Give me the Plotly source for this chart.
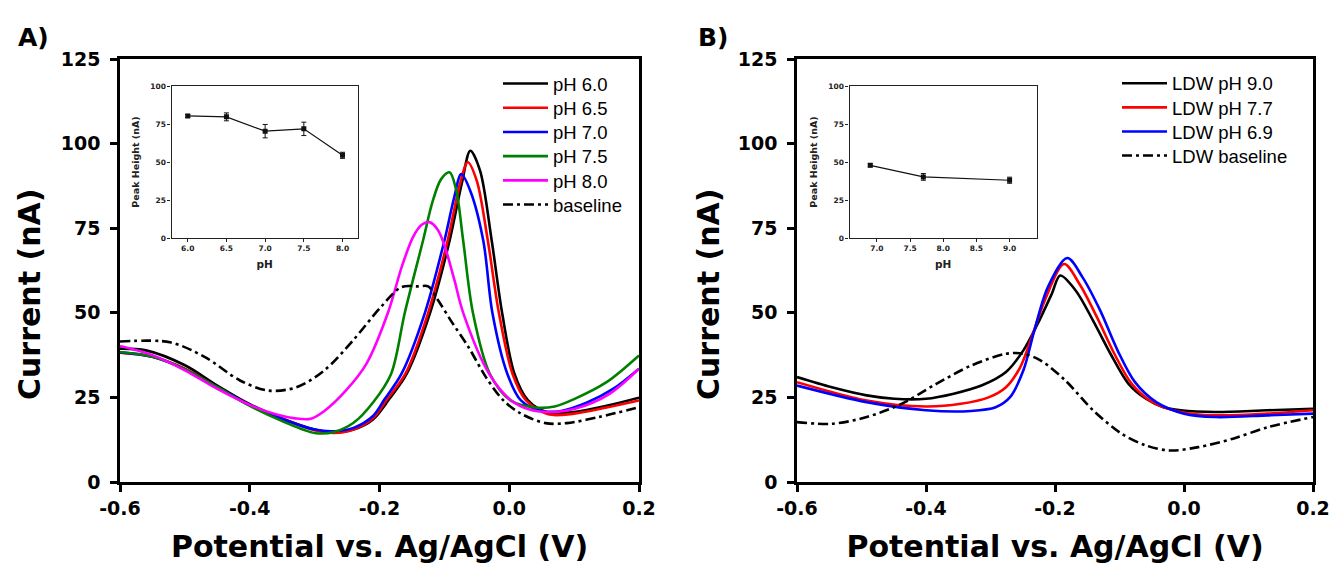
import plotly.graph_objects as go

W, H = 1337, 571

# ---------------- Panel A data ----------------
ph60_v = [-0.6, -0.56, -0.5, -0.45, -0.4, -0.35, -0.3, -0.27, -0.24, -0.21, -0.185, -0.158, -0.122, -0.092, -0.073, -0.06, -0.045, -0.027, -0.011, 0.008, 0.029, 0.06, 0.1, 0.15, 0.2]
ph60_i = [39.4, 38.9, 34.5, 28.5, 23.0, 18.8, 15.5, 14.6, 15.5, 18.5, 24.5, 32.0, 50.0, 71.3, 88.4, 97.9, 92.0, 71.3, 50.0, 32.0, 24.1, 20.5, 20.7, 22.5, 24.9]

ph65_v = [-0.6, -0.55, -0.5, -0.45, -0.4, -0.35, -0.3, -0.27, -0.24, -0.21, -0.188, -0.16, -0.125, -0.095, -0.076, -0.064, -0.05, -0.033, -0.016, 0.005, 0.026, 0.06, 0.1, 0.15, 0.2]
ph65_i = [38.2, 37.0, 33.5, 28.0, 22.7, 18.6, 15.3, 14.5, 15.5, 18.8, 24.5, 32.0, 50.0, 71.3, 88.0, 94.5, 89.0, 71.3, 50.0, 32.0, 24.1, 20.0, 20.2, 22.0, 24.1]

ph70_v = [-0.6, -0.55, -0.5, -0.45, -0.4, -0.35, -0.3, -0.27, -0.24, -0.21, -0.192, -0.166, -0.13, -0.1, -0.085, -0.074, -0.06, -0.04, -0.026, -0.003, 0.018, 0.05, 0.08, 0.12, 0.16, 0.2]
ph70_i = [38.3, 37.0, 33.3, 28.0, 22.7, 18.6, 15.5, 15.0, 16.0, 19.5, 24.5, 32.0, 50.0, 71.3, 84.0, 91.0, 86.0, 71.3, 50.0, 32.0, 24.1, 21.0, 21.0, 23.5, 27.5, 33.5]

ph75_v = [-0.6, -0.55, -0.5, -0.45, -0.4, -0.35, -0.3, -0.27, -0.24, -0.21, -0.182, -0.161, -0.133, -0.118, -0.105, -0.092, -0.082, -0.071, -0.056, -0.03, 0.002, 0.04, 0.07, 0.1, 0.15, 0.2]
ph75_i = [38.4, 37.0, 33.3, 28.0, 22.5, 18.0, 14.5, 14.8, 17.5, 23.5, 32.0, 50.0, 71.3, 83.0, 89.5, 91.5, 86.5, 71.3, 50.0, 32.0, 24.1, 22.0, 22.3, 24.5, 29.5, 37.4]

ph80_v = [-0.6, -0.55, -0.5, -0.45, -0.4, -0.36, -0.33, -0.306, -0.285, -0.252, -0.22, -0.187, -0.165, -0.148, -0.135, -0.123, -0.11, -0.1, -0.085, -0.071, -0.031, 0.003, 0.03, 0.06, 0.1, 0.154, 0.2]
ph80_i = [40.2, 37.5, 33.0, 27.5, 22.8, 20.0, 18.8, 18.7, 21.0, 27.0, 35.0, 50.0, 64.0, 72.5, 76.0, 76.8, 74.5, 70.0, 60.0, 50.0, 32.0, 24.1, 21.5, 20.7, 21.6, 26.0, 33.5]

baseA_v = [-0.6, -0.523, -0.469, -0.415, -0.371, -0.328, -0.285, -0.241, -0.198, -0.166, -0.14, -0.125, -0.111, -0.09, -0.063, -0.036, -0.009, 0.018, 0.056, 0.089, 0.138, 0.2]
baseA_i = [41.5, 41.3, 36.9, 30.0, 27.0, 28.0, 33.0, 41.8, 51.7, 57.6, 57.8, 57.8, 54.1, 47.7, 39.9, 31.0, 24.1, 20.2, 17.4, 17.4, 19.2, 22.1]

# ---------------- Panel B data ----------------
ldw90_v = [-0.6, -0.546, -0.492, -0.449, -0.4, -0.357, -0.314, -0.276, -0.249, -0.227, -0.205, -0.192, -0.168, -0.141, -0.114, -0.086, -0.059, -0.032, -0.005, 0.049, 0.13, 0.2]
ldw90_i = [31.0, 28.0, 25.6, 24.6, 24.6, 26.1, 28.5, 32.5, 38.9, 46.7, 55.6, 61.0, 56.6, 47.7, 37.9, 29.0, 24.6, 22.1, 21.2, 20.7, 21.2, 21.6]

ldw77_v = [-0.6, -0.492, -0.4, -0.346, -0.303, -0.276, -0.254, -0.238, -0.216, -0.186, -0.162, -0.135, -0.108, -0.081, -0.049, -0.005, 0.049, 0.13, 0.2]
ldw77_i = [29.5, 24.1, 22.3, 23.1, 25.0, 28.0, 33.9, 41.8, 53.6, 64.4, 58.5, 48.7, 37.9, 29.0, 23.6, 20.7, 19.7, 20.2, 21.2]

ldw69_v = [-0.6, -0.492, -0.4, -0.33, -0.292, -0.27, -0.249, -0.232, -0.211, -0.181, -0.157, -0.13, -0.103, -0.076, -0.043, 0.0, 0.049, 0.13, 0.2]
ldw69_i = [28.5, 23.6, 21.2, 21.0, 22.1, 25.0, 33.0, 44.8, 57.6, 66.2, 60.4, 50.7, 38.9, 29.5, 23.6, 20.2, 19.2, 19.7, 20.2]

baseB_v = [-0.6, -0.546, -0.492, -0.438, -0.384, -0.33, -0.276, -0.249, -0.222, -0.184, -0.141, -0.097, -0.059, -0.022, 0.022, 0.076, 0.13, 0.2]
baseB_i = [17.7, 17.2, 19.2, 23.1, 29.0, 34.4, 37.9, 37.9, 35.9, 30.0, 21.2, 14.3, 10.8, 9.3, 10.3, 12.8, 16.2, 19.2]

# ---------------- Inset data ----------------
insetA_ph = [6.0, 6.5, 7.0, 7.5, 8.0]
insetA_peak = [80.3, 79.7, 70.3, 71.8, 54.4]
insetA_err = [1.0, 2.6, 4.4, 4.4, 2.0]

insetB_ph = [6.9, 7.7, 9.0]
insetB_peak = [47.8, 40.2, 38.0]
insetB_err = [1.0, 2.2, 2.0]

# tick labels
main_xticks = [-0.6, -0.4, -0.2, 0.0, 0.2]
main_xticktext = ["-0.6", "-0.4", "-0.2", "0.0", "0.2"]
main_yticks = [0, 25, 50, 75, 100, 125]
insetA_xticks = [6.0, 6.5, 7.0, 7.5, 8.0]
insetB_xticks = [7.0, 7.5, 8.0, 8.5, 9.0]
inset_yticks = [0, 25, 50, 75, 100]

BFONT = "DejaVu Sans, Verdana, sans-serif"
LFONT = "Liberation Sans, Arial, sans-serif"
DASHDOT = "10px,4px,3px,4px"
LW = 2.6


def px(x):
    return x / W


def py(y):
    return 1 - y / H


fig = go.Figure()

legend_font = dict(family=LFONT, size=18.5, color="black")
legend_layouts = {}
legend_counter = [0]


def next_legend(x_left, row_center):
    legend_counter[0] += 1
    n = legend_counter[0]
    key = "legend" if n == 1 else "legend%d" % n
    legend_layouts[key] = dict(x=px(x_left), y=py(row_center - 18), xanchor="left", yanchor="top",
                               font=legend_font, bgcolor="rgba(0,0,0,0)", itemwidth=45)
    return key


seriesA = [
    ("pH 6.0", ph60_v, ph60_i, "black", "solid"),
    ("pH 6.5", ph65_v, ph65_i, "#ff0000", "solid"),
    ("pH 7.0", ph70_v, ph70_i, "#0000ff", "solid"),
    ("pH 7.5", ph75_v, ph75_i, "#008000", "solid"),
    ("pH 8.0", ph80_v, ph80_i, "#ff00ff", "solid"),
    ("baseline", baseA_v, baseA_i, "black", DASHDOT),
]
for k, (name, v, i, c, d) in enumerate(seriesA):
    lg = next_legend(498, 83 + 24.2 * k)
    fig.add_trace(go.Scatter(x=v, y=i, name=name, mode="lines",
                             line=dict(color=c, width=LW, dash=d, shape="spline", smoothing=0.9),
                             xaxis="x", yaxis="y", legend=lg))

seriesB = [
    ("LDW pH 9.0", ldw90_v, ldw90_i, "black", "solid"),
    ("LDW pH 7.7", ldw77_v, ldw77_i, "#ff0000", "solid"),
    ("LDW pH 6.9", ldw69_v, ldw69_i, "#0000ff", "solid"),
    ("LDW baseline", baseB_v, baseB_i, "black", DASHDOT),
]
for k, (name, v, i, c, d) in enumerate(seriesB):
    lg = next_legend(1117, 82.7 + 24.1 * k)
    fig.add_trace(go.Scatter(x=v, y=i, name=name, mode="lines",
                             line=dict(color=c, width=LW, dash=d, shape="spline", smoothing=0.9),
                             xaxis="x2", yaxis="y2", legend=lg))

# insets
fig.add_trace(go.Scatter(x=insetA_ph, y=insetA_peak, mode="lines+markers", showlegend=False,
                         line=dict(color="#111", width=1.2),
                         marker=dict(symbol="square", size=5, color="#111"),
                         error_y=dict(type="data", array=insetA_err, color="#111", thickness=1, width=2.5),
                         xaxis="x3", yaxis="y3"))
fig.add_trace(go.Scatter(x=insetB_ph, y=insetB_peak, mode="lines+markers", showlegend=False,
                         line=dict(color="#111", width=1.2),
                         marker=dict(symbol="square", size=5, color="#111"),
                         error_y=dict(type="data", array=insetB_err, color="#111", thickness=1, width=2.5),
                         xaxis="x4", yaxis="y4"))

main_tickfont = dict(family=BFONT, size=19, color="black", weight="bold")
main_titlefont = dict(family=BFONT, size=30, color="black", weight="bold")


def main_x(domain):
    return dict(domain=domain, range=[-0.6, 0.2], tickvals=main_xticks, ticktext=main_xticktext,
                showline=True, linewidth=2.5, linecolor="black", mirror=True, automargin=False,
                ticks="outside", ticklen=7, tickwidth=2.5, tickcolor="black",
                showgrid=False, zeroline=False, tickfont=main_tickfont,
                title=dict(text="Potential vs. Ag/AgCl (V)", font=main_titlefont, standoff=19))


def main_y(domain, anchor):
    return dict(domain=domain, range=[0, 125], tickvals=main_yticks, anchor=anchor,
                showline=True, linewidth=2.5, linecolor="black", mirror=True, automargin=False,
                ticks="outside", ticklen=7, tickwidth=2.5, tickcolor="black",
                showgrid=False, zeroline=False, tickfont=main_tickfont, ticklabelstandoff=6)


inset_tickfont = dict(family=BFONT, size=7.5, color="#222", weight="bold")


def inset_x(domain, rng, ticks, anchor):
    return dict(domain=domain, range=rng, tickvals=ticks, tickformat=".1f", anchor=anchor,
                showline=True, linewidth=1.2, linecolor="#222", mirror=True, automargin=False,
                ticks="outside", ticklen=3, tickwidth=1, tickcolor="#222",
                showgrid=False, zeroline=False, tickfont=inset_tickfont,
                title=dict(text="pH", font=dict(family=BFONT, size=10.5, color="#222", weight="bold"), standoff=8))


def inset_y(domain, anchor):
    return dict(domain=domain, range=[0, 100], tickvals=inset_yticks, anchor=anchor,
                showline=True, linewidth=1.2, linecolor="#222", mirror=True, automargin=False,
                ticks="outside", ticklen=3, tickwidth=1, tickcolor="#222",
                showgrid=False, zeroline=False, tickfont=inset_tickfont,
                title=dict(text="Peak Height (nA)", font=dict(family=BFONT, size=9.5, color="#222", weight="bold"), standoff=8))


ydom = [py(482), py(59)]
iydom = [py(238), py(86)]

fig.update_layout(
    width=W, height=H, autosize=False,
    margin=dict(l=0, r=0, t=0, b=0, autoexpand=False),
    paper_bgcolor="white", plot_bgcolor="white",
    xaxis=main_x([px(120), px(639)]),
    yaxis=main_y(ydom, "x"),
    xaxis2=dict(main_x([px(797), px(1313)]), anchor="y2"),
    yaxis2=main_y(ydom, "x2"),
    xaxis3=inset_x([px(171.5), px(358)], [5.79, 8.2], insetA_xticks, "y3"),
    yaxis3=inset_y(iydom, "x3"),
    xaxis4=inset_x([px(849.5), px(1037)], [6.587, 9.413], insetB_xticks, "y4"),
    yaxis4=inset_y(iydom, "x4"),
    showlegend=True,
    annotations=[
        dict(text="A)", x=px(16), y=py(37), xref="paper", yref="paper", xanchor="left", yanchor="middle",
             showarrow=False, font=dict(family=BFONT, size=25, color="black", weight="bold")),
        dict(text="B)", x=px(696), y=py(37), xref="paper", yref="paper", xanchor="left", yanchor="middle",
             showarrow=False, font=dict(family=BFONT, size=25, color="black", weight="bold")),
        dict(text="Current (nA)", x=px(29), y=py(295), xref="paper", yref="paper", xanchor="center",
             yanchor="middle", textangle=-90, showarrow=False, font=main_titlefont),
        dict(text="Current (nA)", x=px(708), y=py(295), xref="paper", yref="paper", xanchor="center",
             yanchor="middle", textangle=-90, showarrow=False, font=main_titlefont),
    ],
)
fig.update_layout(**legend_layouts)

fig.write_html("out.html", config={"displayModeBar": False},
               post_script="document.body.style.margin='0';document.body.style.overflow='hidden';")
